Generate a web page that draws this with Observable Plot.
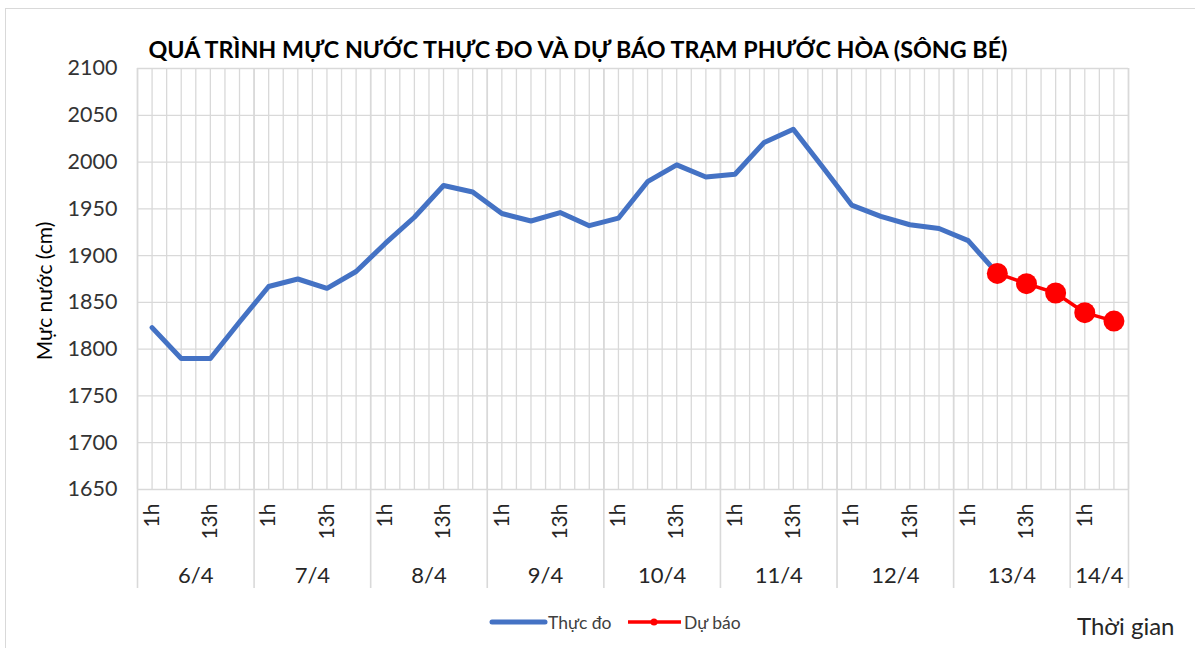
<!DOCTYPE html>
<html>
<head>
<meta charset="utf-8">
<script src="https://cdn.jsdelivr.net/npm/d3@7"></script>
<script src="https://cdn.jsdelivr.net/npm/@observablehq/plot@0.6"></script>
<style>
  body { margin: 0; background: #fff; }
  #wrap { position: relative; width: 1195px; height: 648px; overflow: hidden; font-family: Lato, "Liberation Sans", sans-serif; }
  #frame { position: absolute; left: 5px; top: 8px; width: 1300px; height: 800px; border: 1px solid #d9d9d9; box-sizing: border-box; }
  #chart { position: absolute; left: 0; top: 0; }
  #legend { position: absolute; top: 610px; left: 488px; font-size: 17.5px; color: #404040; white-space: nowrap; }
  #legend .item { position: absolute; top: 0; display: flex; align-items: center; height: 24px; }
  #xtitle { position: absolute; left: 1077px; top: 611px; font-size: 24px; color: #262626; white-space: nowrap; }
</style>
</head>
<body>
<div id="wrap">
  <div id="frame"></div>
  <div id="chart"></div>
  <div id="legend"></div>
  <div id="xtitle"></div>
</div>
<script>
// ---- data ----
const titleText = "QUÁ TRÌNH MỰC NƯỚC THỰC ĐO VÀ DỰ BÁO TRẠM PHƯỚC HÒA (SÔNG BÉ)";
const yLabel = "Mực nước (cm)";
const xLabel = "Thời gian";
const days = ["6/4", "7/4", "8/4", "9/4", "10/4", "11/4", "12/4", "13/4", "14/4"];
const hours = ["1h", "7h", "13h", "19h"];
const shownHours = ["1h", "13h"];
const seriesNames = ["Thực đo", "Dự báo"];
// observed water level, one value every 6 hours from 1h 6/4
const actual = [1823, 1790, 1790, 1829, 1867, 1875, 1865, 1883, 1913, 1941,
                1975, 1968, 1945, 1937, 1946, 1932, 1940, 1979, 1997, 1984,
                1987, 2021, 2035, 1995, 1954, 1942, 1933, 1929, 1916, 1881];
// forecast, starting at 7h 13/4
const forecast = [1881, 1870, 1860, 1839, 1830];
const forecastStartDay = "13/4";
const forecastStartHour = "7h";
const yTicks = [1650, 1700, 1750, 1800, 1850, 1900, 1950, 2000, 2050, 2100];

// ---- build table ----
const slots = [];
const lastSlots = 4 * (days.length - 1) + 2; // 14/4 only has 1h and 7h
for (let d = 0; d < days.length; d++) {
  for (let h = 0; h < hours.length; h++) {
    if (slots.length < lastSlots) slots.push({day: days[d], hour: hours[h], i: slots.length});
  }
}
const nSlots = slots.length;
const fStart = slots.findIndex(s => s.day === forecastStartDay && s.hour === forecastStartHour);
const actualData = actual.map((v, i) => ({i, v}));
const forecastData = forecast.map((v, k) => ({i: fStart + k, v}));

const dayInfo = days.map(d => {
  const idx = slots.filter(s => s.day === d).map(s => s.i);
  return {day: d, start: idx[0] - 0.5, end: idx[idx.length - 1] + 0.5, mid: (idx[0] + idx[idx.length - 1]) / 2};
});
const boundaries = [...dayInfo.map(d => d.start), dayInfo[dayInfo.length - 1].end];
const gridX = d3.range(0, 2 * nSlots + 1).map(k => k / 2 - 0.5);
const tickIdx = slots.filter(s => shownHours.includes(s.hour)).map(s => s.i);

const gridColor = "#d9d9d9";
const font = "Lato, 'Liberation Sans', sans-serif";

const plot = Plot.plot({
  width: 1195,
  height: 648,
  marginLeft: 137,
  marginRight: 67,
  marginTop: 68,
  marginBottom: 159,
  style: {fontFamily: font, background: "transparent", overflow: "visible"},
  x: {type: "linear", domain: [-0.5, nSlots - 0.5], axis: null},
  y: {domain: [1650, 2100], axis: null},
  marks: [
    Plot.ruleY(yTicks, {stroke: gridColor, strokeWidth: 1.3}),
    Plot.ruleX(gridX, {stroke: gridColor, strokeWidth: 1.3}),
    Plot.ruleX(boundaries, {stroke: gridColor, strokeWidth: 1.6, insetBottom: -99}),
    Plot.axisY(yTicks, {tickSize: 0, tickPadding: 20, fontSize: 21.5, label: null, color: "#333", tickFormat: d => String(d)}),
    Plot.axisX(tickIdx, {
      tickSize: 0, tickPadding: 14, tickRotate: -90, fontSize: 21, label: null, color: "#262626",
      tickFormat: i => slots[i].hour
    }),
    Plot.text(dayInfo, {x: "mid", text: "day", frameAnchor: "bottom", dy: 93, fontSize: 22, fill: "#262626"}),
    Plot.text([yLabel], {frameAnchor: "left", textAnchor: "middle", dx: -92, dy: 12, rotate: -90, fontSize: 21, fill: "#000"}),
    Plot.text([titleText], {frameAnchor: "top", dx: -55, dy: -26, fontSize: 22, fontWeight: "bold", fill: "#000"}),
    Plot.line(actualData, {x: "i", y: "v", stroke: "#4472C4", strokeWidth: 5, strokeLinejoin: "round", strokeLinecap: "round"}),
    Plot.line(forecastData, {x: "i", y: "v", stroke: "#FF0000", strokeWidth: 3.5}),
    Plot.dot(forecastData, {x: "i", y: "v", r: 10.5, fill: "#FF0000", stroke: "none"})
  ]
});
document.getElementById("chart").appendChild(plot);

// fit title width to reference
d3.select(plot).selectAll("text").filter(function() { return this.textContent === titleText; })
  .attr("textLength", 859).attr("lengthAdjust", "spacingAndGlyphs");

// legend
const legend = document.getElementById("legend");
legend.innerHTML =
  `<div class="item" style="left:0px"><svg width="60" height="24"><line x1="4" x2="57" y1="12" y2="12" stroke="#4472C4" stroke-width="5" stroke-linecap="round"/></svg><span>${seriesNames[0]}</span></div>` +
  `<div class="item" style="left:138px"><svg width="58" height="24"><line x1="2" x2="55" y1="12" y2="12" stroke="#FF0000" stroke-width="3.5"/><circle cx="28" cy="12" r="3.5" fill="#FF0000"/></svg><span>${seriesNames[1]}</span></div>`;
document.getElementById("xtitle").textContent = xLabel;
</script>
</body>
</html>
